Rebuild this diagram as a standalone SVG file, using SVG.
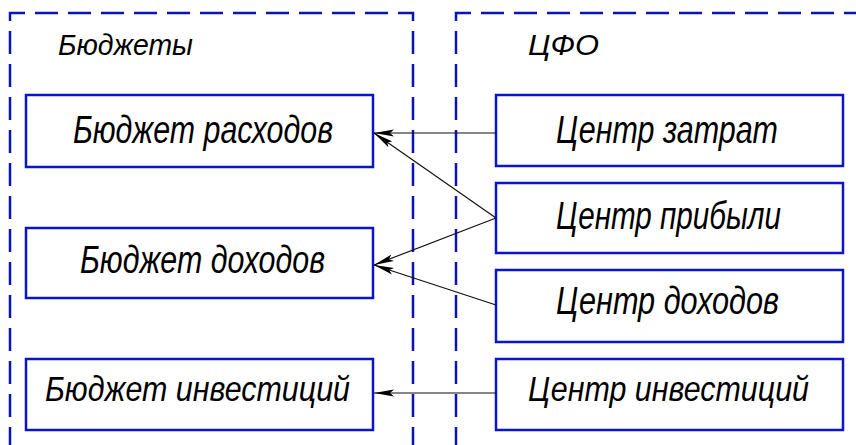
<svg xmlns="http://www.w3.org/2000/svg" width="856" height="445" viewBox="0 0 856 445">
  <defs>
    <marker id="arr" markerUnits="userSpaceOnUse" markerWidth="24" markerHeight="10" refX="20" refY="4" orient="auto">
      <path d="M0,0.5 L20,4 L0,7.5 L4,4 z" fill="#000"/>
    </marker>
    <style>
      .cont { fill: none; stroke: #0a14b4; stroke-width: 2.5; stroke-dasharray: 23 10; }
      .box { fill: #fff; stroke: #0a14c8; stroke-width: 2.5; }
      .t { font-family: "Liberation Sans", "DejaVu Sans", sans-serif; font-style: italic; fill: #000; }
      .lbl { font-size: 38px; }
      .lbls { font-size: 35px; }
      .ttl { font-size: 30px; }
      .conn { stroke: #111; stroke-width: 1.2; fill: none; marker-end: url(#arr); }
    </style>
  </defs>
  <rect x="0" y="0" width="856" height="445" fill="#fff"/>

  <g id="budgets-container">
    <path class="cont" d="M10,450 L10,13 L413,13 L413,450"/>
    <text class="t ttl" x="58" y="55" textLength="135" lengthAdjust="spacingAndGlyphs">Бюджеты</text>
  </g>
  <g id="cfo-container">
    <path class="cont" d="M456,450 L456,13 L870,13"/>
    <text class="t ttl" x="528" y="55" textLength="71" lengthAdjust="spacingAndGlyphs">ЦФО</text>
  </g>

  <g id="b-rashod">
    <rect class="box" x="26" y="95" width="347" height="72"/>
    <text class="t lbl" x="73" y="143" textLength="260" lengthAdjust="spacingAndGlyphs">Бюджет расходов</text>
  </g>
  <g id="b-dohod">
    <rect class="box" x="26" y="228" width="347" height="70"/>
    <text class="t lbl" x="80" y="273" textLength="245" lengthAdjust="spacingAndGlyphs">Бюджет доходов</text>
  </g>
  <g id="b-invest">
    <rect class="box" x="26" y="359" width="347" height="71"/>
    <text class="t lbls" x="45" y="401" textLength="305" lengthAdjust="spacingAndGlyphs">Бюджет инвестиций</text>
  </g>

  <g id="c-zatrat">
    <rect class="box" x="496" y="95" width="347" height="71"/>
    <text class="t lbl" x="556" y="143" textLength="222" lengthAdjust="spacingAndGlyphs">Центр затрат</text>
  </g>
  <g id="c-pribyl">
    <rect class="box" x="496" y="183" width="347" height="70"/>
    <text class="t lbl" x="556" y="229" textLength="225" lengthAdjust="spacingAndGlyphs">Центр прибыли</text>
  </g>
  <g id="c-dohod">
    <rect class="box" x="496" y="270" width="347" height="72"/>
    <text class="t lbl" x="556" y="314" textLength="223" lengthAdjust="spacingAndGlyphs">Центр доходов</text>
  </g>
  <g id="c-invest">
    <rect class="box" x="496" y="359" width="347" height="71"/>
    <text class="t lbls" x="528" y="401" textLength="281" lengthAdjust="spacingAndGlyphs">Центр инвестиций</text>
  </g>

  <g id="connectors">
    <line class="conn" x1="496" y1="133" x2="374" y2="133"/>
    <line class="conn" x1="496" y1="218" x2="374" y2="133"/>
    <line class="conn" x1="496" y1="218" x2="374" y2="265"/>
    <line class="conn" x1="496" y1="305" x2="374" y2="265"/>
    <line class="conn" x1="496" y1="393" x2="374" y2="393"/>
  </g>
</svg>
